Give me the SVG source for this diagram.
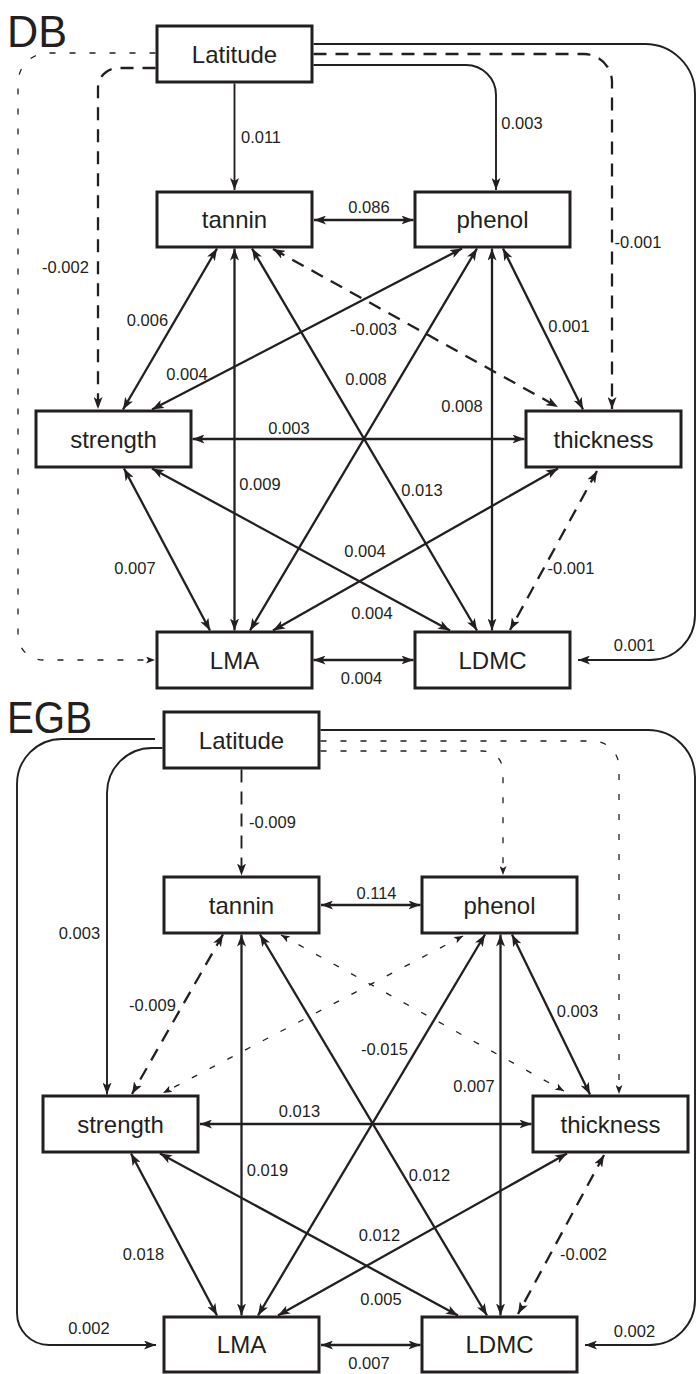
<svg xmlns="http://www.w3.org/2000/svg" width="697" height="1374" viewBox="0 0 697 1374">
  <style>
    .box { fill: #fff; stroke: #231f20; stroke-width: 3; }
    .nl { font-family: "Liberation Sans", Arial, sans-serif; font-size: 24px; text-anchor: middle; fill: #231f20; }
    .el { font-family: "Liberation Sans", Arial, sans-serif; font-size: 16.5px; text-anchor: middle; fill: #231f20; }
    .ttl { font-family: "Liberation Sans", Arial, sans-serif; font-size: 45px; fill: #231f20; }
    .c { fill: none; stroke: #231f20; stroke-width: 2.3; }
    .t { stroke-width: 1.9; }
    .d { stroke-dasharray: 13 9; }
    .o { stroke-width: 1.3; stroke-dasharray: 6 14; }
    .bi { marker-start: url(#ah); marker-end: url(#ah); }
    .to { marker-end: url(#ah); }
    .bis { marker-start: url(#as); marker-end: url(#as); }
    .tos { marker-end: url(#as); }
  </style>
  <defs>
    <marker id="ah" viewBox="0 0 12 9" refX="12" refY="4.5" markerWidth="12" markerHeight="9" orient="auto-start-reverse" markerUnits="userSpaceOnUse">
      <path d="M0,0 L12,4.5 L0,9 L3,4.5 z" fill="#231f20"/>
    </marker>
    <marker id="as" viewBox="0 0 9 7" refX="9" refY="3.5" markerWidth="9" markerHeight="7" orient="auto-start-reverse" markerUnits="userSpaceOnUse">
      <path d="M0,0 L9,3.5 L0,7 L2.2,3.5 z" fill="#231f20"/>
    </marker>
  </defs>
  <rect width="697" height="1374" fill="#fff"/>

  <!-- panel titles -->
  <text class="ttl" x="7" y="47" textLength="60" lengthAdjust="spacingAndGlyphs">DB</text>
  <text class="ttl" x="7" y="733" textLength="85" lengthAdjust="spacingAndGlyphs">EGB</text>

  <!-- DB connectors -->
  <g id="db-connectors">
    <path class="c t to" d="M234.5,83.5 V190"/>
    <path class="c t to" d="M313.5,65 H466 A30,30 0 0 1 496,95 V190"/>
    <path class="c d to" d="M313.5,54 H584 A28,28 0 0 1 612,82 V409"/>
    <path class="c d to" d="M155.5,68 H118 A20,20 0 0 0 98,88 V409"/>
    <path class="c o tos" d="M155.5,53 H48 A30,30 0 0 0 18,83 V635 A25,25 0 0 0 43,660 H155"/>
    <path class="c t to" d="M313.5,44 H645 A50,50 0 0 1 695,94 V615 A45,45 0 0 1 650,660 H578"/>
    <path class="c bi" d="M314,220 H413.5"/>
    <path class="c bi" d="M217,248.5 L123,409.5"/>
    <path class="c d bi" d="M273,249 L558,407"/>
    <path class="c bi" d="M234.5,248.5 V630.5"/>
    <path class="c bi" d="M252,248.5 L477,630.5"/>
    <path class="c bi" d="M462,248.5 L152,409.5"/>
    <path class="c bi" d="M477,248.5 L250,630.5"/>
    <path class="c bi" d="M492,248.5 V630.5"/>
    <path class="c bi" d="M503,248.5 L583,409.5"/>
    <path class="c bi" d="M192.5,439 H524.5"/>
    <path class="c bi" d="M124,468.5 L210,630.5"/>
    <path class="c bi" d="M152,468.5 L450,630.5"/>
    <path class="c bi" d="M558,468.5 L273,630.5"/>
    <path class="c d bi" d="M597,471 L510,630"/>
    <path class="c bi" d="M313.5,660 H413.5"/>
  </g>

  <!-- DB coefficient labels -->
  <g id="db-labels">
    <text class="el" x="261" y="143">0.011</text>
    <text class="el" x="522" y="129">0.003</text>
    <text class="el" x="369" y="213">0.086</text>
    <text class="el" x="65.5" y="273">-0.002</text>
    <text class="el" x="638" y="248">-0.001</text>
    <text class="el" x="147.5" y="326">0.006</text>
    <text class="el" x="187" y="380">0.004</text>
    <text class="el" x="373.5" y="335">-0.003</text>
    <text class="el" x="569" y="332">0.001</text>
    <text class="el" x="366" y="385">0.008</text>
    <text class="el" x="462" y="412">0.008</text>
    <text class="el" x="289" y="434">0.003</text>
    <text class="el" x="260" y="490">0.009</text>
    <text class="el" x="422" y="496">0.013</text>
    <text class="el" x="135" y="574">0.007</text>
    <text class="el" x="365" y="557">0.004</text>
    <text class="el" x="372" y="619">0.004</text>
    <text class="el" x="571" y="574">-0.001</text>
    <text class="el" x="634.5" y="651">0.001</text>
    <text class="el" x="361.5" y="684">0.004</text>
  </g>

  <!-- DB nodes -->
  <g id="db-latitude"><rect class="box" x="157" y="26" width="155" height="56"/><text class="nl" x="234.5" y="63">Latitude</text></g>
  <g id="db-tannin"><rect class="box" x="157" y="192" width="155" height="55"/><text class="nl" x="234.5" y="228">tannin</text></g>
  <g id="db-phenol"><rect class="box" x="415" y="192" width="155" height="55"/><text class="nl" x="492.5" y="228">phenol</text></g>
  <g id="db-strength"><rect class="box" x="36" y="411" width="155" height="56"/><text class="nl" x="113.5" y="447.5">strength</text></g>
  <g id="db-thickness"><rect class="box" x="526" y="411" width="155" height="56"/><text class="nl" x="603.5" y="447.5">thickness</text></g>
  <g id="db-lma"><rect class="box" x="157" y="632" width="155" height="56"/><text class="nl" x="234.5" y="669">LMA</text></g>
  <g id="db-ldmc"><rect class="box" x="415" y="632" width="155" height="56"/><text class="nl" x="492.5" y="669">LDMC</text></g>

  <!-- EGB connectors -->
  <g id="egb-connectors">
    <path class="c t d to" d="M241.5,769.5 V875.5"/>
    <path class="c t to" d="M162.5,748 H152 A45,45 0 0 0 107,793 V1094.5"/>
    <path class="c t to" d="M155,739 H62 A45,45 0 0 0 17,784 V1313 A32,32 0 0 0 49,1345 H156"/>
    <path class="c t to" d="M320.5,730 H648 A47,47 0 0 1 695,777 V1300 A45,45 0 0 1 650,1345 H585"/>
    <path class="c o tos" d="M320.5,751 H483 A20,20 0 0 1 503,771 V875"/>
    <path class="c o tos" d="M320.5,741 H593 A26,26 0 0 1 619,767 V1094"/>
    <path class="c bi" d="M321,905 H420.5"/>
    <path class="c d bi" d="M223,934.5 L132,1094"/>
    <path class="c o bis" d="M463,936 L163,1093"/>
    <path class="c o bis" d="M281,935 L564,1091"/>
    <path class="c bi" d="M241.5,934.5 V1315.5"/>
    <path class="c bi" d="M260,934.5 L487,1315.5"/>
    <path class="c bi" d="M485,934.5 L258,1315.5"/>
    <path class="c bi" d="M500.5,934.5 V1315.5"/>
    <path class="c bi" d="M512,934.5 L590,1094.5"/>
    <path class="c bi" d="M200,1124 H531.5"/>
    <path class="c bi" d="M131,1153.5 L217,1315.5"/>
    <path class="c bi" d="M160,1153.5 L458,1315.5"/>
    <path class="c bi" d="M567,1153.5 L278,1315.5"/>
    <path class="c d bi" d="M604,1155 L518,1314"/>
    <path class="c bi" d="M321,1345 H420.5"/>
  </g>

  <!-- EGB coefficient labels -->
  <g id="egb-labels">
    <text class="el" x="272.5" y="828">-0.009</text>
    <text class="el" x="79.5" y="939">0.003</text>
    <text class="el" x="376.5" y="899">0.114</text>
    <text class="el" x="152.5" y="1011">-0.009</text>
    <text class="el" x="577.5" y="1017">0.003</text>
    <text class="el" x="384.5" y="1055">-0.015</text>
    <text class="el" x="474" y="1092">0.007</text>
    <text class="el" x="299.5" y="1117">0.013</text>
    <text class="el" x="267.5" y="1176">0.019</text>
    <text class="el" x="429.5" y="1181">0.012</text>
    <text class="el" x="379.5" y="1241">0.012</text>
    <text class="el" x="143.5" y="1260">0.018</text>
    <text class="el" x="583.5" y="1260">-0.002</text>
    <text class="el" x="381" y="1305">0.005</text>
    <text class="el" x="89" y="1334">0.002</text>
    <text class="el" x="634.5" y="1337">0.002</text>
    <text class="el" x="369" y="1369">0.007</text>
  </g>

  <!-- EGB nodes -->
  <g id="egb-latitude"><rect class="box" x="164" y="712" width="155" height="56"/><text class="nl" x="241.5" y="749">Latitude</text></g>
  <g id="egb-tannin"><rect class="box" x="164" y="877" width="155" height="56"/><text class="nl" x="241.5" y="913.5">tannin</text></g>
  <g id="egb-phenol"><rect class="box" x="422" y="877" width="155" height="56"/><text class="nl" x="499.5" y="913.5">phenol</text></g>
  <g id="egb-strength"><rect class="box" x="43" y="1096" width="155" height="56"/><text class="nl" x="120.5" y="1132.5">strength</text></g>
  <g id="egb-thickness"><rect class="box" x="533" y="1096" width="155" height="56"/><text class="nl" x="610.5" y="1132.5">thickness</text></g>
  <g id="egb-lma"><rect class="box" x="164" y="1317" width="155" height="55"/><text class="nl" x="241.5" y="1353">LMA</text></g>
  <g id="egb-ldmc"><rect class="box" x="422" y="1317" width="155" height="55"/><text class="nl" x="499.5" y="1353">LDMC</text></g>
</svg>
